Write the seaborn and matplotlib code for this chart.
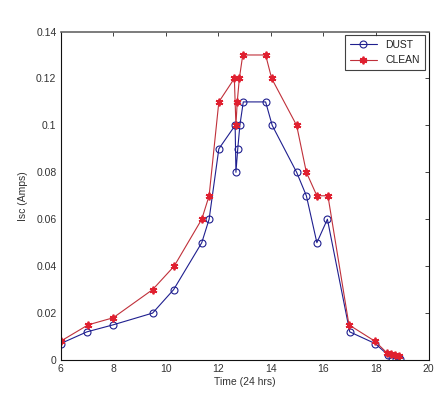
import matplotlib
matplotlib.use("Agg")
import matplotlib.pyplot as plt
import seaborn as sns
import pandas as pd

dust_time = [6, 7, 8, 9.5, 10.3, 11.37, 11.65, 12.02, 12.64, 12.67, 12.74, 12.82, 12.95,
             13.8, 14.05, 14.98, 15.35, 15.75, 16.15, 17.0, 17.97, 18.47, 18.62, 18.75, 18.9]
dust_isc = [0.007, 0.012, 0.015, 0.02, 0.03, 0.05, 0.06, 0.09, 0.10, 0.08, 0.09, 0.10, 0.11,
            0.11, 0.10, 0.08, 0.07, 0.05, 0.06, 0.012, 0.007, 0.002, 0.001, 0.0005, 0.0003]

clean_time = [6, 7.05, 8, 9.5, 10.32, 11.37, 11.65, 12.02, 12.61, 12.67, 12.72, 12.8, 12.93,
              13.8, 14.03, 14.98, 15.35, 15.75, 16.17, 16.97, 17.96, 18.42, 18.56, 18.72, 18.86]
clean_isc = [0.008, 0.015, 0.018, 0.03, 0.04, 0.06, 0.07, 0.11, 0.12, 0.10, 0.11, 0.12, 0.13,
             0.13, 0.12, 0.10, 0.08, 0.07, 0.07, 0.015, 0.008, 0.003, 0.0024, 0.002, 0.0015]

x_ticks = [6, 8, 10, 12, 14, 16, 18, 20]
y_ticks = [0, 0.02, 0.04, 0.06, 0.08, 0.1, 0.12, 0.14]
y_tick_labels = ["0", "0.02", "0.04", "0.06", "0.08", "0.1", "0.12", "0.14"]

sns.set_style("white")
plt.rcParams['font.family'] = ['Liberation Sans', 'DejaVu Sans']

fig = plt.figure(figsize=(4.36, 3.99), dpi=100)
ax = fig.add_axes([0.139, 0.0977, 0.844, 0.8233])

dust_df = pd.DataFrame({"t": dust_time, "i": dust_isc})
clean_df = pd.DataFrame({"t": clean_time, "i": clean_isc})

blue = "#1f1f8f"
red = "#c0303a"

sns.lineplot(data=dust_df, x="t", y="i", sort=False, estimator=None, ax=ax,
             color=blue, linewidth=0.8, marker="o", markersize=5,
             markerfacecolor="none", markeredgecolor=blue, markeredgewidth=0.8,
             label="DUST")
sns.lineplot(data=clean_df, x="t", y="i", sort=False, estimator=None, ax=ax,
             color=red, linewidth=0.8, marker=(6, 2, 0), markersize=5.5,
             markerfacecolor="#e02030", markeredgecolor="#e02030", markeredgewidth=1.3,
             label="CLEAN")

ax.set_xlim(6, 20)
ax.set_ylim(0, 0.14)
ax.set_xticks(x_ticks)
ax.set_xticklabels([str(v) for v in x_ticks])
ax.set_yticks(y_ticks)
ax.set_yticklabels(y_tick_labels)
ax.tick_params(direction="in", length=3, width=0.6, top=True, right=True,
               labelsize=7.5, labelcolor="#333333", colors="#222222", pad=3)
for s in ax.spines.values():
    s.set_visible(True)
    s.set_color("#111111")
    s.set_linewidth(0.8)
ax.spines["top"].set_color("#666666")
ax.spines["top"].set_linewidth(1.2)

ax.set_xlabel("Time (24 hrs)", fontsize=7.5, color="#333333", labelpad=2)
ax.set_ylabel("Isc (Amps)", fontsize=7.5, color="#333333", labelpad=6)

leg = ax.legend(loc="upper right", fontsize=7.5, frameon=True, fancybox=False,
                edgecolor="#111111", borderpad=0.5, handlelength=2.6,
                bbox_to_anchor=(0.99, 0.99), borderaxespad=0.0)
leg.get_frame().set_linewidth(0.8)
for txt in leg.get_texts():
    txt.set_color("#222222")

fig.savefig("out.png", dpi=100, facecolor="white")
